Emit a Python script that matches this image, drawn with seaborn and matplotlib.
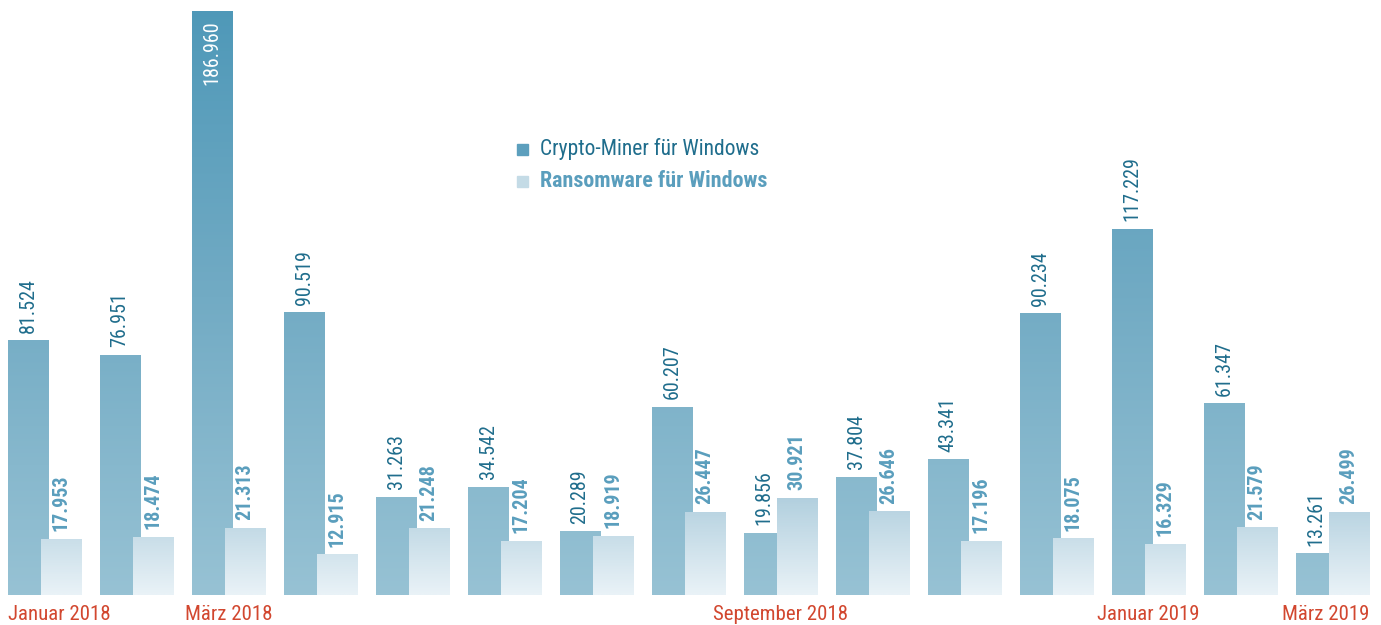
import numpy as np
import pandas as pd
import seaborn as sns
import matplotlib
matplotlib.use("Agg")
import matplotlib.pyplot as plt
from matplotlib.colors import LinearSegmentedColormap, Normalize
from matplotlib import font_manager

# Monthly detections, January 2018 - March 2019
months = ["Januar 2018", "Februar 2018", "März 2018", "April 2018", "Mai 2018",
          "Juni 2018", "Juli 2018", "August 2018", "September 2018", "Oktober 2018",
          "November 2018", "Dezember 2018", "Januar 2019", "Februar 2019", "März 2019"]
crypto_miner = [81524, 76951, 186960, 90519, 31263, 34542, 20289, 60207,
                19856, 37804, 43341, 90234, 117229, 61347, 13261]
ransomware = [17953, 18474, 21313, 12915, 21248, 17204, 18919, 26447,
              30921, 26646, 17196, 18075, 16329, 21579, 26499]
shown_months = ["Januar 2018", "März 2018", "September 2018", "Januar 2019", "März 2019"]
series_names = ["Crypto-Miner für Windows", "Ransomware für Windows"]

# pick the narrowest sans family available
names = {f.name for f in font_manager.fontManager.ttflist}
FONT, STRETCH = "DejaVu Sans", "condensed"
for cand in ["Liberation Sans Narrow", "Roboto Condensed", "Open Sans Condensed",
             "DejaVu Sans Condensed"]:
    if cand in names:
        FONT, STRETCH = cand, "normal"
        break

sns.set_theme(style="white")
plt.rcParams["font.family"] = [FONT, "DejaVu Sans"]
plt.rcParams["font.stretch"] = STRETCH

W, H = 1381, 625
fig = plt.figure(figsize=(W / 100, H / 100), dpi=100)
ax = fig.add_axes([0, 30 / H, 1, 595 / H])

n = len(months)
idx = np.arange(n)
offset = 0.1793
bar_w = 0.4348

df = pd.DataFrame({
    "pos_c": idx - offset, "pos_r": idx + offset,
    "crypto": crypto_miner, "ransom": ransomware,
})

YMAX = 190808
sns.barplot(data=df, x="pos_c", y="crypto", native_scale=True, width=bar_w,
            color="#6aa8c3", ax=ax, zorder=2)
n_c = len(ax.patches)
sns.barplot(data=df, x="pos_r", y="ransom", native_scale=True, width=bar_w,
            color="#cfe2eb", ax=ax, zorder=3)

# vertical gradients tied to the value axis
cmap_c = LinearSegmentedColormap.from_list("cm", ["#97c2d4", "#72abc4", "#4e98b8"])
cmap_r = LinearSegmentedColormap.from_list(
    "rw", [(0.0, "#e9f2f7"), (0.17, "#afcedd"), (1.0, "#7fb3cb")])
norm = Normalize(0, YMAX)

def paint(patch, cmap, z):
    x0, y0 = patch.get_x(), patch.get_y()
    w, h = patch.get_width(), patch.get_height()
    grad = np.linspace(0, h, 200).reshape(-1, 1)
    ax.imshow(grad, cmap=cmap, norm=norm, origin="lower", aspect="auto",
              extent=(x0, x0 + w, y0, y0 + h), zorder=z, interpolation="bilinear")
    patch.set_visible(False)

for i, p in enumerate(list(ax.patches)):
    paint(p, cmap_c if i < n_c else cmap_r, 2 if i < n_c else 3)

def fmt(v):
    return f"{v:,}".replace(",", ".")

pad = 2600
for i in range(n):
    v = crypto_miner[i]
    if v + 50000 > YMAX:
        ax.text(i - offset, v - 2600, fmt(v), rotation=90, ha="center", va="top",
                color="white", fontsize=14.5, zorder=5)
    else:
        ax.text(i - offset, v + pad, fmt(v), rotation=90, ha="center", va="bottom",
                color="#1f6d8c", fontsize=14.5, zorder=5)
    r = ransomware[i]
    ax.text(i + offset, r + pad, fmt(r), rotation=90, ha="center", va="bottom",
            color="#5a9ebd", fontsize=14.5, fontweight="bold", zorder=5)

ax.set_xlim(-0.4837, 14.527)
ax.set_ylim(0, YMAX)
ax.set_xlabel("")
ax.set_ylabel("")
ax.set_yticks([])
ax.set_xticks([])
for s in ax.spines.values():
    s.set_visible(False)

# selected month labels below the baseline
for m in shown_months:
    i = months.index(m)
    if i == 0:
        x, ha = i - offset - bar_w / 2, "left"
    elif i == n - 1:
        x, ha = i + offset + bar_w / 2, "right"
    else:
        x, ha = i, "center"
    ax.text(x, -3300, m, ha=ha, va="top", color="#d2472f", fontsize=15, clip_on=False)

# legend
lx, ly = 517 / W, 1 - 149 / H
sq = 11
fig.patches.append(plt.Rectangle((lx, ly - sq / 2 / H), sq / W, sq / H,
                                 transform=fig.transFigure, color="#5c9fbd"))
fig.text(540 / W, ly, series_names[0], ha="left", va="center", color="#1f6d8c",
         fontsize=15.5)
ly2 = 1 - 181 / H
fig.patches.append(plt.Rectangle((lx, ly2 - sq / 2 / H), sq / W, sq / H,
                                 transform=fig.transFigure, color="#c4dbe6"))
fig.text(540 / W, ly2, series_names[1], ha="left", va="center", color="#5a9ebd",
         fontsize=15.8, fontweight="bold")

fig.savefig("out.png", dpi=100)
